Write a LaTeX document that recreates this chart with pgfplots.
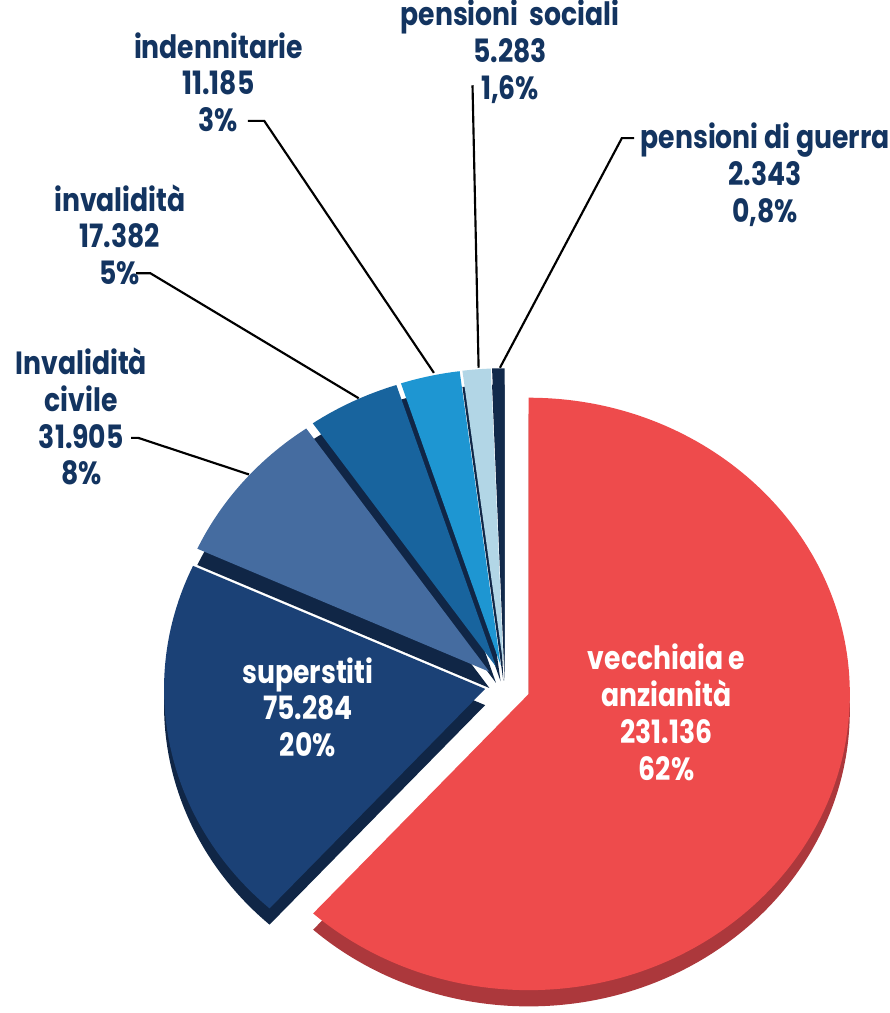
\documentclass[border=0pt]{standalone}
\usepackage{pgfplots}
\pgfplotsset{compat=1.18}
\usepackage{pgfplotstable}
\usepackage{fontspec}
\setmainfont{Poppins}[FakeStretch=0.83]

\definecolor{cvecch}{RGB}{238,75,76}
\definecolor{cvecchside}{RGB}{172,56,60}
\definecolor{csup}{RGB}{27,65,118}
\definecolor{cciv}{RGB}{69,108,160}
\definecolor{cinv}{RGB}{24,100,158}
\definecolor{cind}{RGB}{30,150,210}
\definecolor{csoc}{RGB}{178,214,230}
\definecolor{cgue}{RGB}{18,42,75}
\definecolor{cside}{RGB}{16,38,70}
\definecolor{ctext}{RGB}{19,52,96}

% values in thousands (231.136 = 231136 pensions)
\pgfplotstableread{
name value explode
vecchiaia 231.136 25
superstiti 75.284 20
civile 31.905 20
invalidita 17.382 20
indennitarie 11.185 20
sociali 5.283 20
guerra 2.343 20
}\piedata

% pie centre and radii (axis units = pixels of the reference)
\def\cx{497}
\def\cy{323}
\def\rx{3.16cm}
\def\ry{2.915cm}
\def\depth{16}

\newcommand\slice[3]{%
  \edef\temp{%
    \noexpand\fill[#3] (axis cs:\csname px#1\endcsname,\csname py#1\endcsname-\depth)
      -- ++(\csname sa#1\endcsname:\rx\space and \ry)
      arc[start angle=\csname sa#1\endcsname, end angle=\csname ea#1\endcsname, x radius=\rx, y radius=\ry] -- cycle;
    \noexpand\fill[#2] (axis cs:\csname px#1\endcsname,\csname py#1\endcsname)
      -- ++(\csname sa#1\endcsname:\rx\space and \ry)
      arc[start angle=\csname sa#1\endcsname, end angle=\csname ea#1\endcsname, x radius=\rx, y radius=\ry] -- cycle;}%
  \temp}

\begin{document}
\begin{tikzpicture}
% angles of the slices, clockwise from 12 o'clock
\pgfmathsetmacro\total{0}
\pgfplotsforeachungrouped \i in {0,...,6}{%
  \pgfplotstablegetelem{\i}{value}\of\piedata
  \pgfmathsetmacro\total{\total+\pgfplotsretval}}
\def\cur{90}
\pgfplotsforeachungrouped \i in {0,...,6}{%
  \pgfplotstablegetelem{\i}{value}\of\piedata
  \pgfmathsetmacro\sweep{360*(\pgfplotsretval/\total)}
  \pgfmathsetmacro\e{\cur-\sweep}
  \pgfmathsetmacro\m{\cur-\sweep/2}
  \pgfplotstablegetelem{\i}{explode}\of\piedata
  \pgfmathsetmacro\px{\cx+\pgfplotsretval*cos(\m)}
  \pgfmathsetmacro\py{\cy+\pgfplotsretval*sin(\m)}
  \expandafter\xdef\csname sa\i\endcsname{\cur}
  \expandafter\xdef\csname ea\i\endcsname{\e}
  \expandafter\xdef\csname px\i\endcsname{\px}
  \expandafter\xdef\csname py\i\endcsname{\py}
  \xdef\cur{\e}}

\begin{axis}[
    scale only axis,
    width=8.85cm, height=10.13cm,
    xmin=0, xmax=885, ymin=0, ymax=1013,
    hide axis,
    clip=false,
]
\addplot[draw=none] coordinates {(0,0)};
% back to front
\slice{6}{cgue}{cside}
\slice{5}{csoc}{cside}
\slice{4}{cind}{cside}
\slice{3}{cinv}{cside}
\slice{2}{cciv}{cside}
\slice{1}{csup}{cside}
\slice{0}{cvecch}{cvecchside}

% leader lines
\draw[black, line width=0.6pt] (axis cs:244,878) -- (axis cs:260,878) -- (axis cs:427,630);
\draw[black, line width=0.6pt] (axis cs:134,728) -- (axis cs:148,728) -- (axis cs:353,605);
\draw[black, line width=0.6pt] (axis cs:129,566) -- (axis cs:136,566) -- (axis cs:245,530);
\draw[black, line width=0.6pt] (axis cs:465,913) -- (axis cs:471,635);
\draw[black, line width=0.6pt] (axis cs:624,861) -- (axis cs:612,861) -- (axis cs:492,635);

\tikzset{lab/.style={align=center, inner sep=0pt, text=ctext,
  font=\fontsize{9}{10.3}\selectfont\bfseries}}
\node[lab] at (axis cs:502,946) {pensioni\ \ sociali\\5.283\\1,6\%};
\node[lab] at (axis cs:215,916) {indennitarie\\11.185\\3\%};
\node[lab] at (axis cs:753,825) {pensioni di guerra\\2.343\\0,8\%};
\node[lab] at (axis cs:118,766) {invalidità\\17.382\\5\%};
\node[lab] at (axis cs:80,587) {Invalidità\\civile\\31.905\\8\%};
\node[lab, text=white] at (axis cs:303,301) {superstiti\\75.284\\20\%};
\node[lab, text=white] at (axis cs:656,296) {vecchiaia e\\anzianità\\231.136\\62\%};
\end{axis}
\end{tikzpicture}
\end{document}
